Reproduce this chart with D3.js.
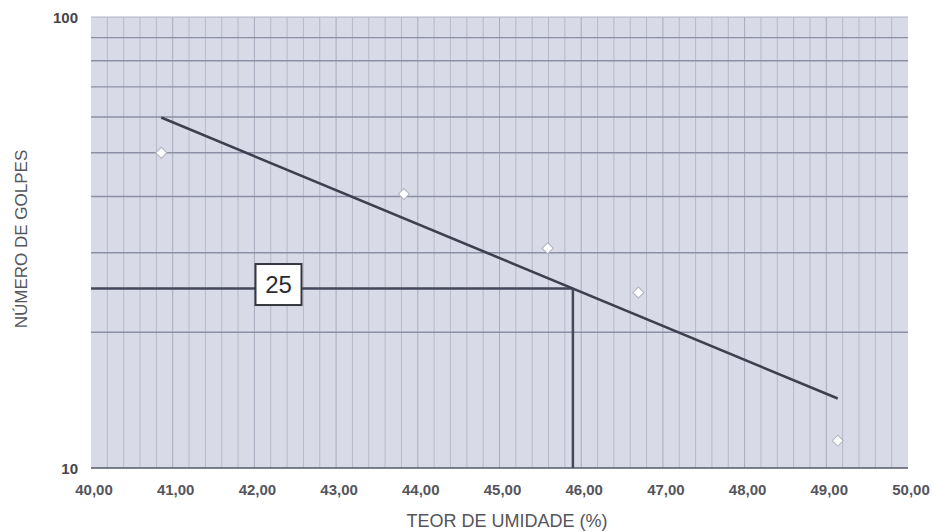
<!DOCTYPE html>
<html><head><meta charset="utf-8">
<script src="https://cdn.jsdelivr.net/npm/d3@7"></script>
<style>body{margin:0;background:#fff}svg{display:block}</style>
</head><body>
<script>
const moisture = [40.86, 43.83, 45.59, 46.70, 49.14];
const blows = [50.0, 40.5, 30.7, 24.5, 11.5];
const xTicks = [40, 41, 42, 43, 44, 45, 46, 47, 48, 49, 50];
const yTickLabels = [10, 100];
const refBlows = 25;

const W = 932, H = 531;
const m = {left: 91, right: 24, top: 17, bottom: 63};
const FONT = "Liberation Sans, Arial, sans-serif";
const svg = d3.select("body").append("svg").attr("width", W).attr("height", H);
const x = d3.scaleLinear().domain([40, 50]).range([m.left, W - m.right]);
const y = d3.scaleLog().domain([10, 100]).range([H - m.bottom, m.top]);

// plot background
svg.append("rect").attr("x", x(40)).attr("y", y(100)).attr("width", x(50) - x(40))
  .attr("height", y(10) - y(100)).attr("fill", "#d8dae7");

// vertical grid every 0.2
const g = svg.append("g");
d3.range(40.2, 50.0, 0.2).forEach(v => {
  g.append("line").attr("x1", x(v)).attr("x2", x(v)).attr("y1", y(100)).attr("y2", y(10))
    .attr("stroke", Math.abs(v - Math.round(v)) < 1e-6 ? "#a9abbe" : "#b7b9cb").attr("stroke-width", 1);
});
// major horizontal grid
d3.range(20, 100, 10).forEach(v => {
  g.append("line").attr("x1", x(40)).attr("x2", x(50)).attr("y1", y(v)).attr("y2", y(v))
    .attr("stroke", "#8c8fa4").attr("stroke-width", 1.4);
});
// top line and bottom axis
g.append("line").attr("x1", x(40)).attr("x2", x(50)).attr("y1", y(100)).attr("y2", y(100))
  .attr("stroke", "#b0b2c4").attr("stroke-width", 1);
g.append("line").attr("x1", x(40)).attr("x2", x(50)).attr("y1", y(10)).attr("y2", y(10))
  .attr("stroke", "#55586a").attr("stroke-width", 1.5);

// regression of log10(blows) on moisture
const ly = blows.map(b => Math.log10(b));
const mx = d3.mean(moisture), my = d3.mean(ly);
const slope = d3.sum(moisture.map((v, i) => (v - mx) * (ly[i] - my))) /
              d3.sum(moisture.map(v => (v - mx) ** 2));
const icpt = my - slope * mx;
const f = v => Math.pow(10, icpt + slope * v);
const x0 = d3.min(moisture), x1 = d3.max(moisture);
const xRef = (Math.log10(refBlows) - icpt) / slope;

// reference lines
svg.append("line").attr("x1", x(40)).attr("x2", x(xRef)).attr("y1", y(refBlows)).attr("y2", y(refBlows))
  .attr("stroke", "#45475a").attr("stroke-width", 2.5);
svg.append("line").attr("x1", x(xRef)).attr("x2", x(xRef)).attr("y1", y(refBlows)).attr("y2", y(10))
  .attr("stroke", "#45475a").attr("stroke-width", 2.5);

// trend line
svg.append("line").attr("x1", x(x0)).attr("y1", y(f(x0))).attr("x2", x(x1)).attr("y2", y(f(x1)))
  .attr("stroke", "#3e4050").attr("stroke-width", 2.6);

// points (square rotated 45deg)
svg.selectAll("path.pt").data(moisture).join("path").attr("class", "pt")
  .attr("d", d3.symbol().type(d3.symbolSquare).size(60))
  .attr("transform", (d, i) => `translate(${x(d)},${y(blows[i])}) rotate(45)`)
  .attr("fill", "#ffffff").attr("stroke", "#b0b2be").attr("stroke-width", 1);

// label box 25
const lx = 278.5, lyy = y(refBlows) - 4;
svg.append("rect").attr("x", lx - 23).attr("y", lyy - 20.5).attr("width", 46).attr("height", 41)
  .attr("fill", "#ffffff").attr("stroke", "#35373f").attr("stroke-width", 2);
svg.append("text").attr("x", lx).attr("y", lyy + 8.5).attr("text-anchor", "middle")
  .attr("font-family", FONT).attr("font-size", 24)
  .attr("fill", "#2a2c33").text(refBlows);

// x tick labels
svg.selectAll("text.xt").data(xTicks).join("text").attr("class", "xt")
  .attr("x", d => x(d) + 3).attr("y", y(10) + 27).attr("text-anchor", "middle")
  .attr("font-family", FONT).attr("font-size", 15)
  .attr("font-weight", "bold").attr("fill", "#55555d")
  .text(d => d3.format(".2f")(d).replace(".", ","));

// y tick labels
svg.selectAll("text.yt").data(yTickLabels).join("text").attr("class", "yt")
  .attr("x", x(40) - 13).attr("y", d => y(d) + 6).attr("text-anchor", "end")
  .attr("font-family", FONT).attr("font-size", 15)
  .attr("font-weight", "bold").attr("fill", "#45454d").text(d => d);

// axis titles
svg.append("text").attr("x", 507).attr("y", 527).attr("text-anchor", "middle")
  .attr("font-family", FONT).attr("font-size", 18)
  .attr("fill", "#55555d").text("TEOR DE UMIDADE (%)");
svg.append("text").attr("transform", "translate(27,239) rotate(-90)").attr("text-anchor", "middle")
  .attr("font-family", FONT).attr("font-size", 17)
  .attr("fill", "#55555d").text("NÚMERO DE GOLPES");
</script>
</body></html>
